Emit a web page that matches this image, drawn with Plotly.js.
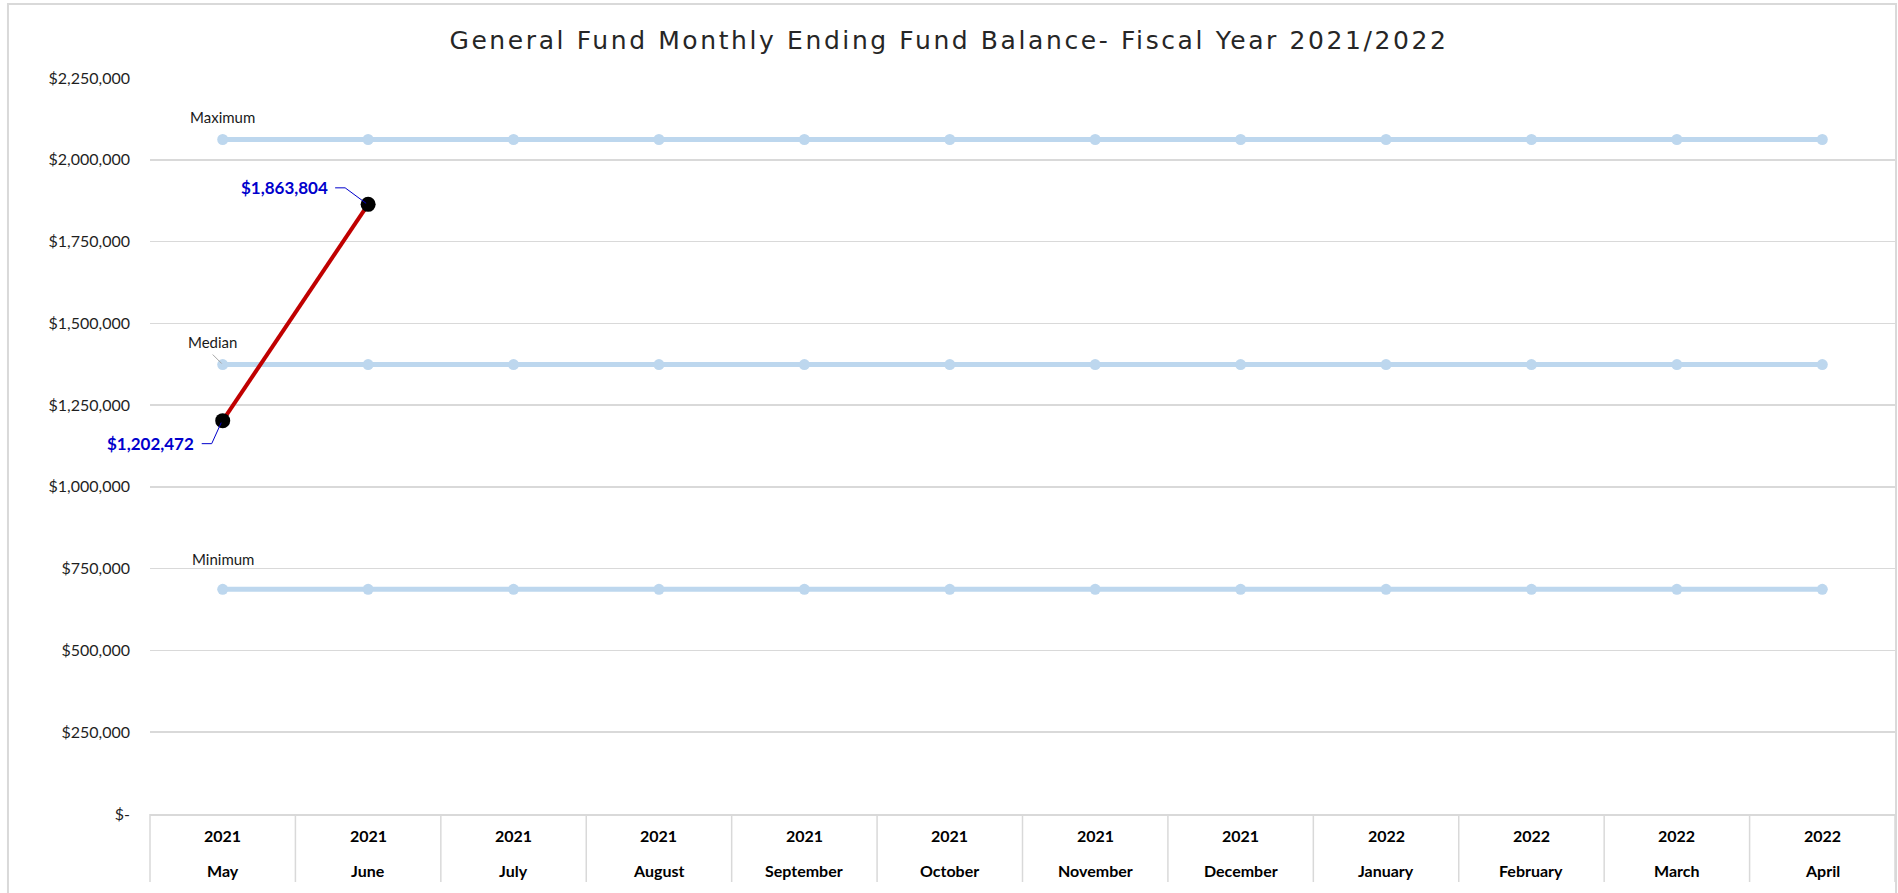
<!DOCTYPE html>
<html>
<head>
<meta charset="utf-8">
<script src="https://cdn.plot.ly/plotly-3.0.1.min.js"></script>
<style>
  html, body { margin: 0; padding: 0; background: #ffffff; }
  #chart { width: 1898px; height: 893px; }
  .gtitle { letter-spacing: 2.6px; }
</style>
</head>
<body>
<div id="chart"></div>
<script>
// Fiscal year months (May 2021 – April 2022)
const years  = ['2021','2021','2021','2021','2021','2021','2021','2021','2022','2022','2022','2022'];
const months = ['May','June','July','August','September','October','November','December','January','February','March','April'];

// Reference bands
const maximumBalance = [2062000, 2062000, 2062000, 2062000, 2062000, 2062000, 2062000, 2062000, 2062000, 2062000, 2062000, 2062000];
const medianBalance  = [1374000, 1374000, 1374000, 1374000, 1374000, 1374000, 1374000, 1374000, 1374000, 1374000, 1374000, 1374000];
const minimumBalance = [687000, 687000, 687000, 687000, 687000, 687000, 687000, 687000, 687000, 687000, 687000, 687000];

// Actual month-end balances reported so far
const actualBalance = [1202472, 1863804, null, null, null, null, null, null, null, null, null, null];

// Value axis ticks (accounting format)
const yTickValues = [0, 250000, 500000, 750000, 1000000, 1250000, 1500000, 1750000, 2000000, 2250000];
const yTickLabels = ['$-', '$250,000', '$500,000', '$750,000', '$1,000,000', '$1,250,000', '$1,500,000', '$1,750,000', '$2,000,000', '$2,250,000'];

const categories = months.map((m, i) => years[i] + ' ' + m);

const LIGHT_BLUE = '#BDD7EE';
const GRID = '#D9D9D9';
const LABEL_FONT = 'Lato, "Open Sans", sans-serif';

function money(v) {
  return '$' + Math.round(v).toLocaleString('en-US');
}

const bandStyle = {
  type: 'scatter', mode: 'lines+markers', x: categories,
  line: { color: LIGHT_BLUE, width: 5 },
  marker: { color: LIGHT_BLUE, size: 11 },
  hoverinfo: 'skip', cliponaxis: false
};

const traces = [
  Object.assign({}, bandStyle, { name: 'Maximum', y: maximumBalance }),
  Object.assign({}, bandStyle, { name: 'Median',  y: medianBalance }),
  Object.assign({}, bandStyle, { name: 'Minimum', y: minimumBalance }),
  {
    type: 'scatter', mode: 'lines+markers', name: 'Actual',
    x: categories, y: actualBalance,
    line: { color: '#C00000', width: 4 },
    marker: { color: '#000000', size: 15 },
    hoverinfo: 'skip', cliponaxis: false
  }
];

const annotations = [];
const shapes = [];

// Leader line drawn in pixel offsets from a data point (positive y is up)
function leader(xCat, yVal, path, color) {
  shapes.push({
    type: 'path', layer: 'above',
    xref: 'x', yref: 'y',
    xsizemode: 'pixel', ysizemode: 'pixel',
    xanchor: xCat, yanchor: yVal,
    path: path,
    line: { color: color, width: 1 }
  });
}

// Series name labels on the first point of each band
const bandLabels = [
  { text: 'Maximum', values: maximumBalance, dx: 0,   dy: 23, lead: null },
  { text: 'Median',  values: medianBalance,  dx: -10, dy: 23, lead: 'M -10,10 L -1,1' },
  { text: 'Minimum', values: minimumBalance, dx: 0,   dy: 30, lead: null }
];
bandLabels.forEach(b => {
  annotations.push({
    x: categories[0], y: b.values[0], xref: 'x', yref: 'y',
    text: b.text, showarrow: false,
    xshift: b.dx, yshift: b.dy,
    font: { family: LABEL_FONT, size: 15, color: '#1a1a1a' }
  });
  if (b.lead) leader(categories[0], b.values[0], b.lead, '#A6A6A6');
});

// Value labels for the actual balances, with Excel-style leader lines
const actualLabelOffsets = [
  { dx: -72, dy: -23, lead: 'M -21,-23 L -11,-23 L -1.5,-2' },
  { dx: -84, dy: 17,  lead: 'M -33,16.5 L -23,16.5 L -2,1' }
];
actualBalance.forEach((v, i) => {
  if (v === null) return;
  const off = actualLabelOffsets[i];
  annotations.push({
    x: categories[i], y: v, xref: 'x', yref: 'y',
    text: '<b>' + money(v) + '</b>',
    showarrow: false, xshift: off.dx, yshift: off.dy,
    font: { family: LABEL_FONT, size: 17, color: '#0000CC' }
  });
  leader(categories[i], v, off.lead, '#0000CC');
});

// Two-row category labels (year above month)
categories.forEach((c, i) => {
  annotations.push({
    x: c, y: 0, xref: 'x', yref: 'paper', yanchor: 'middle',
    yshift: -21, showarrow: false, text: '<b>' + years[i] + '</b>',
    font: { family: LABEL_FONT, size: 16, color: '#000000' }
  });
  annotations.push({
    x: c, y: 0, xref: 'x', yref: 'paper', yanchor: 'middle',
    yshift: -56, showarrow: false, text: '<b>' + months[i] + '</b>',
    font: { family: LABEL_FONT, size: 16, color: '#000000' }
  });
});

// Category cell dividers below the plot area and the chart frame
for (let i = 0; i <= categories.length; i++) {
  shapes.push({
    type: 'line', xref: 'x domain', yref: 'paper',
    x0: i / categories.length, x1: i / categories.length,
    y0: 0, y1: -0.0924,
    line: { color: GRID, width: 1.5 }
  });
}
shapes.push({
  type: 'rect', xref: 'paper', yref: 'paper',
  x0: -0.0814, x1: 1.0006, y0: -0.2, y1: 1.1005,
  line: { color: GRID, width: 2 }, fillcolor: 'rgba(0,0,0,0)'
});

const layout = {
  width: 1898, height: 893,
  margin: { l: 150, r: 3, t: 78, b: 79 },
  paper_bgcolor: '#ffffff', plot_bgcolor: '#ffffff',
  showlegend: false,
  title: {
    text: 'General Fund Monthly Ending Fund Balance- Fiscal Year 2021/2022',
    x: 0.5, xref: 'container', xanchor: 'center',
    y: 1 - 40 / 893, yref: 'container', yanchor: 'middle',
    font: { family: '"DejaVu Sans", sans-serif', size: 25, color: '#262626' }
  },
  xaxis: {
    type: 'category', categoryorder: 'array', categoryarray: categories,
    range: [-0.5, categories.length - 0.5],
    showgrid: false, showticklabels: false, ticks: '',
    showline: true, linecolor: GRID, linewidth: 1.5,
    zeroline: false, fixedrange: true
  },
  yaxis: {
    range: [0, 2250000],
    tickmode: 'array', tickvals: yTickValues, ticktext: yTickLabels,
    ticks: '', ticklabelstandoff: 19,
    showgrid: true, gridcolor: GRID, gridwidth: 1.5,
    zeroline: false, showline: false, fixedrange: true,
    tickfont: { family: LABEL_FONT, size: 16, color: '#1f1f1f' }
  },
  annotations: annotations,
  shapes: shapes
};

Plotly.newPlot('chart', traces, layout, { displayModeBar: false, staticPlot: true });
</script>
</body>
</html>
